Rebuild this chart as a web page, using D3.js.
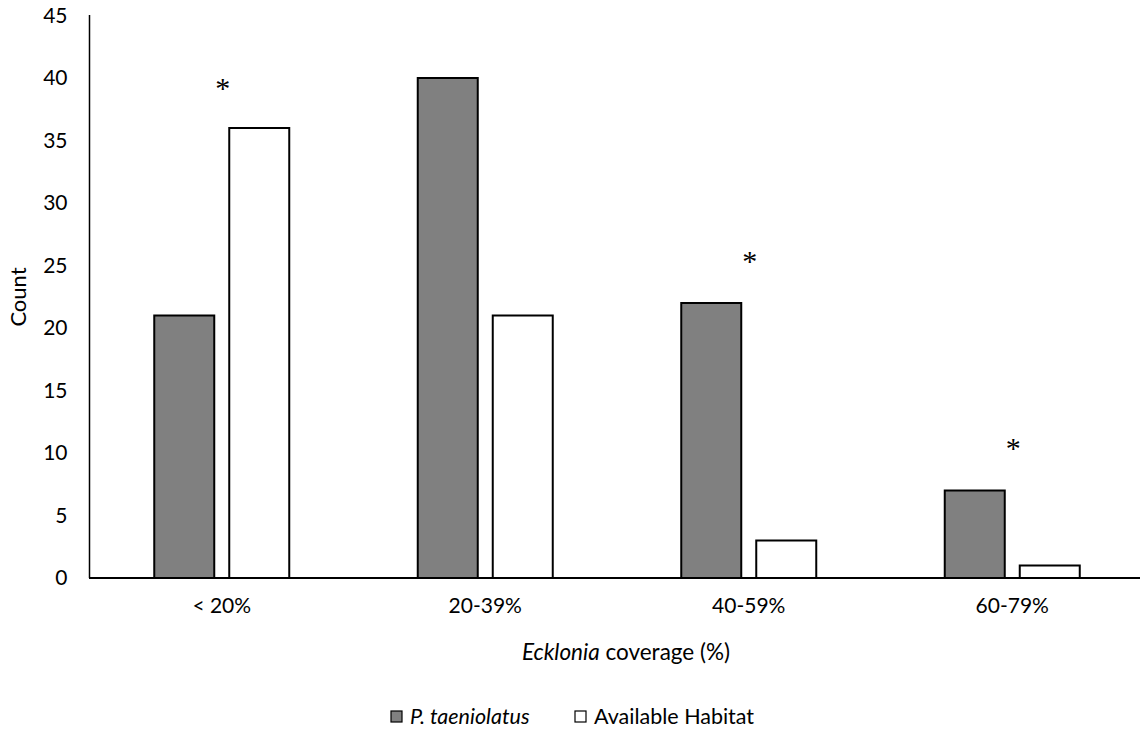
<!DOCTYPE html>
<html><head><meta charset="utf-8">
<script src="https://cdn.jsdelivr.net/npm/d3@7"></script>
<style>body{margin:0;background:#fff}svg{display:block;font-family:Lato,"Open Sans",sans-serif}</style>
</head><body><svg id="c" width="1141" height="737"></svg>
<script>
const categories = ["< 20%", "20-39%", "40-59%", "60-79%"];
const seriesNames = ["P. taeniolatus", "Available Habitat"];
const taeniolatus = [21, 40, 22, 7];
const habitat = [36, 21, 3, 1];
const starCategories = ["< 20%", "40-59%", "60-79%"];
const starValues = [39.6, 25.8, 10.8];
const yTicks = [0, 5, 10, 15, 20, 25, 30, 35, 40, 45];
const colors = ["#808080", "#ffffff"];

const svg = d3.select("#c");
const x0 = d3.scaleBand().domain(categories).range([90, 1144]).paddingInner(0).paddingOuter(0);
const x1 = d3.scaleBand().domain(seriesNames).range([-67.5, 67.5]).paddingInner(0.2).paddingOuter(0);
const y = d3.scaleLinear().domain([0, 45]).range([578, 15.5]);

const data = categories.map((c, i) => ({c, vals: [taeniolatus[i], habitat[i]]}));

const g = svg.append("g");
data.forEach(d => {
  d.vals.forEach((v, j) => {
    const cx = x0(d.c) + x0.bandwidth() / 2;
    g.append("rect")
      .attr("x", cx + x1(seriesNames[j]))
      .attr("y", y(v))
      .attr("width", x1.bandwidth())
      .attr("height", y(0) - y(v))
      .attr("fill", colors[j])
      .attr("stroke", "#000")
      .attr("stroke-width", 2);
  });
});

const yAxis = d3.axisLeft(y).tickValues(yTicks).tickSize(0).tickPadding(0);
const ya = svg.append("g").attr("transform", "translate(89.5,0)").call(yAxis);
ya.select(".domain").remove();
ya.selectAll("text").attr("x", -22).attr("font-size", 21).attr("fill", "#000").attr("font-family", "Lato");
svg.append("line").attr("x1", 89.5).attr("x2", 89.5).attr("y1", 15).attr("y2", 578).attr("stroke", "#000").attr("stroke-width", 1.5);

const xAxis = d3.axisBottom(x0).tickSize(0).tickPadding(0);
const xa = svg.append("g").attr("transform", "translate(0,578)").call(xAxis);
xa.select(".domain").remove();
xa.selectAll("text").attr("y", 20).attr("font-size", 21).attr("fill", "#000").attr("font-family", "Lato");
svg.append("line").attr("x1", 89).attr("x2", 1140).attr("y1", 578).attr("y2", 578).attr("stroke", "#000").attr("stroke-width", 2);

starCategories.forEach((c, i) => {
  svg.append("text")
    .attr("x", x0(c) + x0.bandwidth() / 2 + 1)
    .attr("y", y(starValues[i]) + 15)
    .attr("text-anchor", "middle")
    .attr("font-family", "Liberation Serif, DejaVu Serif, serif")
    .attr("font-size", 30)
    .text("*");
});

svg.append("text").attr("transform", "translate(26,297) rotate(-90)")
  .attr("text-anchor", "middle").attr("font-size", 22).text("Count");
const xt = svg.append("text").attr("x", 626).attr("y", 660).attr("text-anchor", "middle").attr("font-size", 22.5);
xt.append("tspan").attr("font-style", "italic").text("Ecklonia");
xt.append("tspan").text(" coverage (%)");

const leg = svg.append("g");
const legX = [391, 575];
seriesNames.forEach((n, j) => {
  leg.append("rect").attr("x", legX[j]).attr("y", 711).attr("width", 11).attr("height", 11)
    .attr("fill", colors[j]).attr("stroke", "#000").attr("stroke-width", 1.2);
  leg.append("text").attr("x", legX[j] + 19).attr("y", 724).attr("font-size", 21.5)
    .attr("font-style", j === 0 ? "italic" : "normal").text(n);
});
</script></body></html>
